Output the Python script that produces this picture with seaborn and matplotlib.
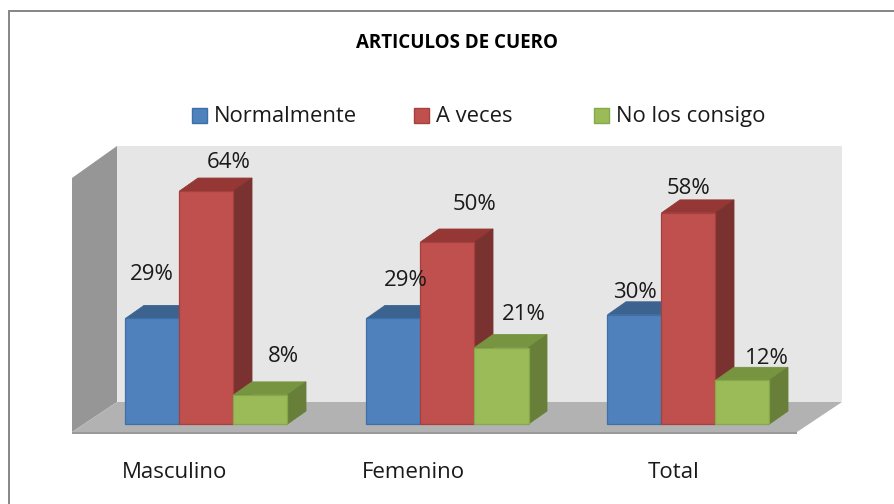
import pandas as pd
import matplotlib
matplotlib.use("Agg")
import matplotlib.pyplot as plt
import seaborn as sns
from matplotlib.patches import Polygon, Rectangle
from matplotlib.transforms import Affine2D

# data
groups = ["Masculino", "Femenino", "Total"]
series = ["Normalmente", "A veces", "No los consigo"]
normalmente = [29, 29, 30]
a_veces = [64, 50, 58]
no_consigo = [8, 21, 12]
title = "ARTICULOS DE CUERO"

# colours: front, top, side, edge
front = ["#4F81BD", "#C0504D", "#9BBB59"]
top = ["#3C6390", "#953735", "#779440"]
side = ["#3A5F8B", "#7A3230", "#677F38"]
edge = ["#3D6FA8", "#A5403D", "#86A84A"]

df = pd.DataFrame({
    "grupo": groups * 3,
    "serie": [s for s in series for _ in groups],
    "valor": normalmente + a_veces + no_consigo,
})

W, H = 895, 504
plt.rcParams["font.family"] = ["Open Sans", "DejaVu Sans"]
fig = plt.figure(figsize=(W / 100, H / 100), dpi=100, facecolor="white")
ax = fig.add_axes([0, 0, 1, 1])

sns.barplot(data=df, x="grupo", y="valor", hue="serie", hue_order=series, order=groups,
            palette=front, width=162 / 241, gap=0, legend=False, ax=ax, saturation=1)
bar_list = sorted(ax.patches, key=lambda b: b.get_x())

# scale so that the bars land where they do in the picture (241 px per group, 3.64 px per %)
px_x, px_y = 241, 3.64
ax.set_xlim(-206.5 / px_x, (W - 206.5) / px_x)
ax.set_ylim(-(H - 424) / px_y, 424 / px_y)
ax.axis("off")

# pixel transform for the frame and the texts, y going down
px = Affine2D().scale(1, -1).translate(0, H)

# walls and floor
ax.add_patch(Polygon([(117, 146), (842, 146), (842, 402), (117, 402)], fc="#E6E6E6", ec="none", transform=px, zorder=1))
ax.add_patch(Polygon([(72, 178), (117, 146), (117, 402), (72, 432)], fc="#969696", ec="none", transform=px, zorder=1))
ax.add_patch(Polygon([(72, 432), (117, 402), (842, 402), (797, 432)], fc="#B2B2B2", ec="none", transform=px, zorder=1.5))
ax.add_patch(Rectangle((72, 432), 725, 2, fc="#9A9A9A", ec="none", transform=px, zorder=1.5))

# 3d faces of the bars, left to right so the next bar covers the side of the one before
dx, dy = 18.5 / px_x, 13 / px_y
for i, b in enumerate(bar_list):
    k = i % 3
    x0, x1, h = b.get_x(), b.get_x() + b.get_width(), b.get_height()
    z = 3 + i
    ax.add_patch(Polygon([(x0, h), (x1, h), (x1 + dx, h + dy), (x0 + dx, h + dy)],
                         fc=top[k], ec=top[k], lw=0.6, zorder=z))
    ax.add_patch(Polygon([(x1, 0), (x1, h), (x1 + dx, h + dy), (x1 + dx, dy)],
                         fc=side[k], ec=side[k], lw=0.6, zorder=z))
    b.set_edgecolor(edge[k])
    b.set_linewidth(0.9)
    b.set_zorder(z + 0.5)

# value labels
label_pos = [(152, 275), (406, 280), (635, 293),
             (229, 162), (474, 204), (688, 188),
             (283, 356), (524, 314), (767, 358)]
for v, (x, y) in zip(normalmente + a_veces + no_consigo, label_pos):
    ax.text(x, y, f"{v}%", transform=px, ha="center", va="center", fontsize=16, color="#1a1a1a", zorder=20)

# category labels
for g, x in zip(groups, [175, 413, 674]):
    ax.text(x, 472, g, transform=px, ha="center", va="center", fontsize=16, color="#1a1a1a", zorder=20)

# legend
for s, c, e, x in zip(series, front, edge, [192, 414, 594]):
    ax.add_patch(Rectangle((x, 108), 15, 15, fc=c, ec=e, lw=1.0, transform=px, zorder=20))
    ax.text(x + 22, 116.5, s, transform=px, ha="left", va="center", fontsize=15.8, color="#1a1a1a", zorder=20)

ax.text(457, 43, title, transform=px, ha="center", va="center", fontsize=13.5, fontweight="bold", color="black", zorder=20)

# outer frame: only top and left show
ax.add_patch(Rectangle((8, 10), 2, H, fc="#888888", ec="none", transform=px, zorder=20, clip_on=False))
ax.add_patch(Rectangle((8, 10), W, 2, fc="#888888", ec="none", transform=px, zorder=20, clip_on=False))

fig.savefig("out.png", dpi=100)
